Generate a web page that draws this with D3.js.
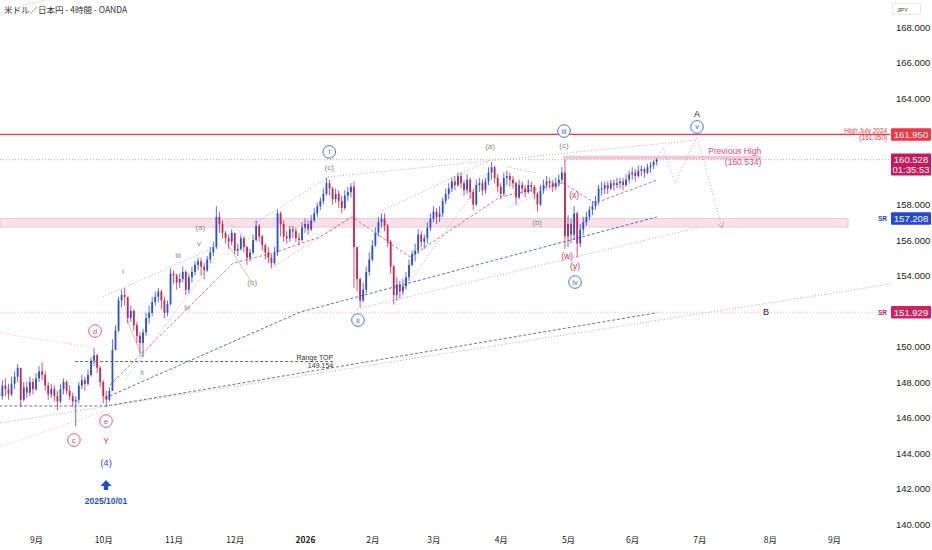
<!DOCTYPE html>
<html>
<head>
<meta charset="utf-8">
<script src="https://cdn.jsdelivr.net/npm/d3@7"></script>
<style>
body { margin: 0; background: #fff; }
svg { display: block; font-family: "Liberation Sans", Arial, sans-serif; }
</style>
</head>
<body>
<div id="chart"></div>
<script>
// daily bars from 2025-08-14 (weekdays only)
var startDate = new Date(2025, 7, 14);
var firstOpen = 147.4;

var closes = [
	147.2, 147.8,
	147.6, 147.3, 147.9, 148.3, 148.8,
	147.0, 147.7, 147.4, 148.0, 147.6,
	148.2, 148.6, 148.4, 147.8, 147.3,
	147.6, 147.2, 146.9, 147.6, 148.0,
	147.5, 147.2, 146.9, 147.0, 147.8,
	148.1, 147.9, 148.4, 149.2, 149.5,
	148.8, 148.0, 147.2, 147.0, 147.5,
	149.8, 150.9, 152.6, 152.9, 152.8,
	151.6, 152.0, 151.2, 150.6, 150.2,
	150.8, 151.6, 151.9, 152.5, 152.8,
	153.1, 152.6, 151.9, 152.4, 154.1,
	154.0, 153.6, 153.8, 154.2, 153.2,
	153.9, 154.2, 154.6, 154.8, 154.5,
	154.3, 154.9, 155.3, 155.6, 157.3,
	156.9, 156.4, 156.1, 155.9, 156.4,
	155.4, 155.5, 156.1, 155.6, 155.0,
	155.3, 156.0, 156.8, 156.2, 155.7,
	155.3, 155.0, 154.7, 155.3, 157.5,
	156.9, 156.2, 156.1, 156.6, 156.5,
	156.1, 156.0, 156.7, 156.9, 156.6,
	157.1, 157.5, 157.9, 158.2, 158.6,
	159.2, 158.9, 158.3, 158.6, 158.2,
	157.8, 158.5, 158.7, 159.0, 155.6,
	153.8, 152.6, 153.2, 154.2, 154.9,
	155.7, 156.4, 157.0, 157.2, 156.8,
	155.9, 154.5, 152.9, 153.5, 153.1,
	153.4, 153.9, 154.6, 155.2, 155.4,
	156.3, 155.9, 156.1, 156.7, 157.2,
	157.6, 157.3, 157.5, 158.2, 158.6,
	158.9, 159.3, 159.1, 159.6, 159.2,
	158.8, 159.4, 158.7, 158.0, 159.1,
	159.2, 158.8, 159.3, 159.8, 160.1,
	159.5, 159.0, 158.6, 159.5, 159.6,
	159.4, 159.2, 158.4, 159.1, 158.9,
	158.7, 159.1, 159.0, 158.6, 158.0,
	158.8, 159.1, 159.3, 159.2, 159.0,
	159.2, 159.4, 159.8, 156.2, 156.9,
	156.3, 157.5, 155.8, 156.6, 157.0,
	157.3, 157.7, 157.9, 158.2, 158.9,
	158.9, 159.1, 158.9, 159.2, 159.1,
	159.2, 159.3, 159.1, 159.4, 159.7,
	159.8, 159.6, 159.9, 160.0, 159.8,
	160.1, 160.2, 160.4, 160.528
];

var highs = [
	147.9, 148.1,
	148.2, 147.9, 148.3, 148.6, 149.0,
	148.2, 148.0, 148.0, 148.3, 148.2,
	148.5, 148.9, 149.1, 148.6, 148.0,
	147.9, 147.8, 147.5, 147.9, 148.2,
	148.1, 147.8, 147.4, 147.2, 148.0,
	148.4, 148.3, 148.7, 149.4, 149.9,
	149.6, 148.9, 148.1, 147.5, 147.7,
	150.4, 151.2, 152.8, 153.2, 153.3,
	152.6, 152.3, 152.1, 151.4, 150.8,
	151.0, 151.9, 152.3, 152.8, 153.1,
	153.3, 153.2, 152.8, 152.6, 154.4,
	154.3, 154.1, 154.1, 154.5, 154.3,
	154.1, 154.5, 154.8, 155.0, 155.0,
	154.7, 155.1, 155.6, 155.9, 157.9,
	157.6, 157.1, 156.5, 156.3, 156.6,
	156.4, 155.8, 156.3, 156.2, 155.7,
	155.5, 156.3, 157.1, 156.9, 156.3,
	155.8, 155.6, 155.2, 155.6, 157.7,
	157.6, 157.1, 156.5, 156.8, 156.8,
	156.7, 156.4, 157.0, 157.2, 157.1,
	157.4, 157.8, 158.1, 158.4, 158.9,
	159.5, 159.4, 159.0, 158.9, 158.8,
	158.5, 158.8, 159.0, 159.2, 159.3,
	155.6, 153.9, 153.6, 154.5, 155.3,
	156.0, 156.7, 157.3, 157.5, 157.5,
	156.9, 156.0, 154.6, 153.9, 153.7,
	153.8, 154.2, 154.9, 155.4, 155.8,
	156.6, 156.5, 156.3, 157.0, 157.5,
	157.9, 157.8, 157.9, 158.4, 158.9,
	159.2, 159.5, 159.6, 159.8, 159.8,
	159.4, 159.7, 159.5, 158.9, 159.4,
	159.5, 159.4, 159.5, 160.1, 160.4,
	160.2, 159.7, 159.2, 159.8, 159.9,
	159.8, 159.6, 159.3, 159.4, 159.3,
	159.1, 159.4, 159.3, 159.1, 158.7,
	159.1, 159.4, 159.6, 159.5, 159.4,
	159.5, 159.7, 160.1, 160.53, 157.4,
	157.2, 157.9, 157.6, 156.9, 157.3,
	157.6, 157.9, 158.2, 158.5, 159.1,
	159.3, 159.3, 159.3, 159.4, 159.4,
	159.5, 159.5, 159.5, 159.7, 159.9,
	160.1, 160.0, 160.2, 160.2, 160.1,
	160.3, 160.4, 160.5, 160.6
];

var lows = [
	146.8, 147.0,
	147.2, 147.0, 147.2, 147.6, 148.0,
	146.6, 146.9, 147.1, 147.2, 147.3,
	147.5, 148.0, 148.1, 147.5, 147.0,
	147.1, 146.9, 146.4, 146.8, 147.3,
	147.3, 147.0, 146.6, 145.5, 146.8,
	147.6, 147.5, 147.8, 148.3, 148.9,
	148.5, 147.7, 146.8, 146.6, 146.9,
	149.2, 150.2, 150.8, 152.2, 152.3,
	151.3, 151.4, 150.9, 150.2, 149.6,
	149.4, 150.6, 151.3, 151.7, 152.3,
	152.5, 152.1, 151.6, 151.7, 152.3,
	153.5, 153.2, 153.3, 153.6, 152.9,
	153.0, 153.6, 154.0, 154.3, 154.0,
	153.8, 154.2, 154.7, 155.1, 155.5,
	156.4, 156.1, 155.8, 155.5, 155.7,
	155.2, 155.1, 155.4, 155.3, 154.6,
	154.8, 155.2, 155.9, 155.9, 155.4,
	154.9, 154.7, 154.4, 154.6, 155.1,
	156.2, 155.9, 155.8, 155.9, 156.1,
	155.9, 155.7, 155.9, 156.4, 156.3,
	156.5, 157.0, 157.3, 157.7, 158.0,
	158.5, 158.5, 158.0, 158.1, 157.8,
	157.5, 157.7, 158.2, 158.4, 153.3,
	153.1, 152.2, 152.5, 153.0, 154.0,
	154.8, 155.6, 156.2, 156.7, 156.5,
	155.6, 154.1, 152.4, 152.6, 152.7,
	152.9, 153.2, 153.7, 154.5, 154.8,
	155.2, 155.6, 155.5, 155.8, 156.5,
	157.0, 156.9, 157.0, 157.3, 158.0,
	158.3, 158.7, 158.8, 159.0, 158.9,
	158.5, 158.6, 158.3, 157.7, 157.9,
	158.7, 158.5, 158.6, 159.1, 159.4,
	159.2, 158.7, 158.3, 158.5, 159.1,
	159.0, 158.9, 158.0, 158.3, 158.6,
	158.4, 158.6, 158.7, 158.3, 157.6,
	157.9, 158.6, 158.9, 158.9, 158.7,
	158.8, 159.0, 159.2, 155.5, 155.6,
	155.8, 156.0, 155.0, 155.6, 156.3,
	156.8, 157.1, 157.4, 157.7, 158.0,
	158.5, 158.6, 158.6, 158.8, 158.8,
	158.9, 158.9, 158.8, 159.0, 159.2,
	159.4, 159.3, 159.5, 159.6, 159.5,
	159.7, 159.8, 160.0, 160.2
];

var monthLabels = ["9月","10月","11月","12月","2026","2月","3月","4月","5月","6月","7月","8月","9月"];
var priceTicks = [140,142,144,146,148,150,154,156,158,164,166,168];

// key levels
var highJuly2024 = 161.950;
var prevHigh = 160.534, prevHighTop = 160.75;
var lastPrice = 160.528;
var srTop = 157.208, srBottom = 156.73;
var srLow = 151.929;
var rangeTop = 149.154;

// drawn lines as [bar, price]
var grayDotted = [
	[[0.2,145.69],[291.4,153.52]],
	[[117,152.11],[228.2,156.68]],
	[[107.5,159.55],[228.2,161.63]],
	[[123.6,157.52],[160.5,160.51]],
	[[128.8,152.34],[159.5,159.77]],
	[[84.3,157.01],[108.2,159.61]],
	[[89.5,154.48],[114.7,157.30]],
	[[33.9,152.79],[69.9,155.55]],
	[[41.1,148.11],[70.6,154.99]],
	[[74.5,157.01],[82,156.0]],
	[[166.4,160.11],[175.9,159.77]],
	[[167,157.86],[184.4,159.21]],
	[[6.8,169.18],[14.9,169.52]]
];
var graySolid = [
	[[41.8,151.49],[46.7,149.41]],
	[[74.5,155.83],[82,153.75]]
];
var darkDashed = [[0,146.65],[35,146.65],[215,151.9]];
var blueDashed = [[34.6,147.10],[98.4,151.94],[215.1,157.30]];
var redDashed = [[36.2,147.83],[76.5,154.70],[89.5,155.27],[104.9,156.17],[115.4,157.30],[134.4,155.04],[163.8,158.42],[184.4,159.21],[194.9,158.08],[215.1,159.38]];
var redDotted = [
	[[0.2,150.76],[31.3,149.92]],
	[[0.2,144.34],[35.2,146.42]]
];
var projection = [[215.1,160.62],[217.1,161.2],[221,159.21],[228.2,161.80],[236.4,156.68]];

// wave labels [text, bar, price]
var blueCircled = [["v",228.2,162.37],["iii",184.7,162.14],["i",107.9,160.96],["ii",117.3,151.49],["iv",188.3,153.63]];
var redCircled = [["d",31.3,150.87],["c",24.4,144.73],["e",34.9,145.80]];
var grayLabels = [["(c)",184.7,161.30],["(c)",107.9,160.11],["(a)",160.5,161.24],["(b)",175.9,157.01],["(a)",65.7,156.68],["(b)",82.7,153.63],["i",40.5,154.20],["iii",58.5,155.15],["v",65.3,155.83],["iv",61.4,152.17],["ii",46.7,148.51]];
var redLabels = [["(x)",188,158.54],["(w)",185.7,155.10],["(y)",188.3,154.54],["Y",34.9,144.68]];
var blackLabels = [["A",228.2,163.10],["B",250.8,151.94]];
var markBar = 34.9, markPrices = [143.44, 142.2, 141.52];

var W = 932, H = 550, plotR = 890, plotB = 530;

// weekday calendar
var days = [];
var dd = new Date(startDate);
while (dd <= new Date(2026, 8, 30)) {
	if (dd.getDay() !== 0 && dd.getDay() !== 6) days.push(new Date(dd));
	dd.setDate(dd.getDate() + 1);
}
var monthStarts = [];
days.forEach(function(d, i) {
	if (i > 0 && d.getMonth() !== days[i-1].getMonth()) monthStarts.push(i);
});

var x = d3.scaleLinear().domain([monthStarts[0], monthStarts[12]]).range([36, 834]);
var y = d3.scaleLinear().domain([140, 168]).range([524, 27]);

var svg = d3.select("#chart").append("svg").attr("width", W).attr("height", H);
svg.append("rect").attr("width", W).attr("height", H).attr("fill", "#fff");
svg.append("clipPath").attr("id", "plot").append("rect")
	.attr("x", 0).attr("y", 0).attr("width", plotR).attr("height", plotB);

var g = svg.append("g").attr("clip-path", "url(#plot)");

var line = d3.line().x(function(d) { return x(d[0]); }).y(function(d) { return y(d[1]); });

// SR zone
g.append("rect")
	.attr("x", 0).attr("y", y(srTop))
	.attr("width", x(277.6)).attr("height", y(srBottom) - y(srTop))
	.attr("fill", "#fbe0ea").attr("stroke", "#dcc4ce").attr("stroke-width", 0.8);

// horizontal levels
function hline(p, color, dash, w, x2) {
	g.append("line").attr("x1", 0).attr("x2", x2 || plotR)
		.attr("y1", y(p)).attr("y2", y(p))
		.attr("stroke", color).attr("stroke-width", w)
		.attr("stroke-dasharray", dash);
}
hline(lastPrice, "#a0a4ac", "1,2", 0.8);
hline(srLow, "#e2a6bc", "1,2", 0.8, 876);

g.append("line")
	.attr("x1", x(24.8)).attr("x2", x(109.2))
	.attr("y1", y(rangeTop)).attr("y2", y(rangeTop))
	.attr("stroke", "#555").attr("stroke-width", 0.9).attr("stroke-dasharray", "3,2");

g.append("rect")
	.attr("x", x(184.4)).attr("y", y(prevHighTop))
	.attr("width", x(249.2) - x(184.4)).attr("height", y(prevHigh) - y(prevHighTop))
	.attr("fill", "#f2b8cc").attr("opacity", 0.8);

// trend lines
grayDotted.forEach(function(s) {
	g.append("path").attr("d", line(s)).attr("fill", "none")
		.attr("stroke", "#9a9a9a").attr("stroke-width", 0.8).attr("stroke-dasharray", "1,2");
});
graySolid.forEach(function(s) {
	g.append("path").attr("d", line(s)).attr("fill", "none")
		.attr("stroke", "#aaa").attr("stroke-width", 0.7);
});
redDotted.forEach(function(s) {
	g.append("path").attr("d", line(s)).attr("fill", "none")
		.attr("stroke", "#f0a0b4").attr("stroke-width", 0.8).attr("stroke-dasharray", "1,2");
});
g.append("path").attr("d", line(darkDashed)).attr("fill", "none")
	.attr("stroke", "#666").attr("stroke-width", 0.9).attr("stroke-dasharray", "3,2");
g.append("path").attr("d", line(blueDashed)).attr("fill", "none")
	.attr("stroke", "#3d5fd0").attr("stroke-width", 0.9).attr("stroke-dasharray", "3,2");
g.append("path").attr("d", line(redDashed)).attr("fill", "none")
	.attr("stroke", "#e0607e").attr("stroke-width", 0.9).attr("stroke-dasharray", "3,2");

// candles
var bars = closes.map(function(c, i) {
	return { i: i, o: i ? closes[i-1] : firstOpen, c: c, h: highs[i], l: lows[i] };
});
var candle = g.selectAll("g.bar")
	.data(bars)
	.enter()
	.append("g").attr("class", "bar");
candle.append("line")
	.attr("x1", function(d) { return x(d.i); })
	.attr("x2", function(d) { return x(d.i); })
	.attr("y1", function(d) { return y(d.h); })
	.attr("y2", function(d) { return y(d.l); })
	.attr("stroke", function(d) { return d.c >= d.o ? "#2a4fd8" : "#c8284e"; })
	.attr("stroke-width", 0.8);
candle.append("rect")
	.attr("x", function(d) { return x(d.i) - 0.9; })
	.attr("width", 1.8)
	.attr("y", function(d) { return y(Math.max(d.o, d.c)); })
	.attr("height", function(d) { return Math.max(1, Math.abs(y(d.o) - y(d.c))); })
	.attr("fill", function(d) { return d.c >= d.o ? "#2a4fd8" : "#c8284e"; });

// July 2024 high
hline(highJuly2024, "#f23645", null, 1.4);

// projection path
g.append("path").attr("d", line(projection)).attr("fill", "none")
	.attr("stroke", "#a8a8a8").attr("stroke-width", 0.9).attr("stroke-dasharray", "1,2");
var pa = projection[projection.length-2], pb = projection[projection.length-1];
var ang = Math.atan2(y(pb[1]) - y(pa[1]), x(pb[0]) - x(pa[0]));
[-2.6, 2.6].forEach(function(da) {
	g.append("line")
		.attr("x1", x(pb[0])).attr("y1", y(pb[1]))
		.attr("x2", x(pb[0]) - 6 * Math.cos(ang + da * 0.2))
		.attr("y2", y(pb[1]) - 6 * Math.sin(ang + da * 0.2))
		.attr("stroke", "#a8a8a8").attr("stroke-width", 0.9);
});

// labels
function txt(t, i, p, color, size, weight) {
	return g.append("text").attr("x", x(i)).attr("y", y(p))
		.attr("text-anchor", "middle").attr("dominant-baseline", "central")
		.attr("font-size", size).attr("font-weight", weight || "normal")
		.attr("fill", color).text(t);
}
function circled(list, color) {
	list.forEach(function(l) {
		g.append("circle").attr("cx", x(l[1])).attr("cy", y(l[2])).attr("r", 6.3)
			.attr("fill", "#fff").attr("stroke", color).attr("stroke-width", 0.9);
		txt(l[0], l[1], l[2], color, 7.5);
	});
}
circled(blueCircled, "#3a62d8");
circled(redCircled, "#e2496f");
grayLabels.forEach(function(l) { txt(l[0], l[1], l[2], "#8a8a8a", 8); });
redLabels.forEach(function(l) { txt(l[0], l[1], l[2], "#d6335e", 8.5); });
blackLabels.forEach(function(l) { txt(l[0], l[1], l[2], "#222", 9); });

txt("(4)", markBar, markPrices[0], "#2d55d0", 9.5);
g.append("path")
	.attr("transform", "translate(" + x(markBar) + "," + y(markPrices[1]) + ")")
	.attr("d", "M-5.5,1 L0,-5 L5.5,1 L2.2,1 L2.2,5 L-2.2,5 L-2.2,1 Z")
	.attr("fill", "#1f4fc8");
txt("2025/10/01", markBar, markPrices[2] - 0.22, "#1f4fc8", 8.5, "bold");

// Range TOP
g.append("text").attr("x", x(109.2)).attr("y", y(rangeTop) - 2)
	.attr("text-anchor", "end").attr("font-size", 7).attr("fill", "#333").text("Range TOP");
g.append("text").attr("x", x(109.2)).attr("y", y(rangeTop) + 6)
	.attr("text-anchor", "end").attr("font-size", 7).attr("fill", "#333").text(rangeTop.toFixed(3));

// Previous High
g.append("text").attr("x", x(249.2)).attr("y", y(prevHighTop) - 1.5)
	.attr("text-anchor", "end").attr("font-size", 8.5).attr("fill", "#e0487a").text("Previous High");
g.append("text").attr("x", x(249.2)).attr("y", y(prevHigh) + 5)
	.attr("text-anchor", "end").attr("font-size", 8.5).attr("fill", "#e0487a").text("(" + prevHigh.toFixed(3) + ")");

// High July 2024
g.append("text").attr("x", x(290.4)).attr("y", y(highJuly2024) - 1.5)
	.attr("text-anchor", "end").attr("font-size", 6.5).attr("fill", "#f23645").text("High July 2024");
g.append("text").attr("x", x(290.4)).attr("y", y(highJuly2024) + 6)
	.attr("text-anchor", "end").attr("font-size", 6.5).attr("fill", "#f23645").text("(" + highJuly2024.toFixed(3) + ")");

// SR marks
g.append("text").attr("x", 887).attr("y", y(srTop) + 2.5).attr("text-anchor", "end")
	.attr("font-size", 6.5).attr("font-weight", "bold").attr("fill", "#2448d8").text("SR");
g.append("text").attr("x", 887).attr("y", y(srLow) + 2.5).attr("text-anchor", "end")
	.attr("font-size", 6.5).attr("font-weight", "bold").attr("fill", "#d0215f").text("SR");

// title
svg.append("text").attr("x", 4).attr("y", 13)
	.attr("font-family", "'Noto Sans CJK JP', sans-serif")
	.attr("font-size", 8.5).attr("fill", "#333")
	.text("米ドル／日本円 - 4時間 - OANDA");

// price axis
var yAxis = d3.axisRight(y).tickValues(priceTicks)
	.tickFormat(d3.format(".3f")).tickSize(0).tickPadding(4);
var ya = svg.append("g").attr("transform", "translate(892,0)").call(yAxis);
ya.select(".domain").remove();
ya.selectAll("text").attr("font-size", 9.5).attr("fill", "#222")
	.attr("font-family", "'Liberation Sans', Arial, sans-serif");

// time axis
var xAxis = d3.axisBottom(x).tickValues(monthStarts)
	.tickFormat(function(d, i) { return monthLabels[i]; }).tickSize(0).tickPadding(5);
var xa = svg.append("g").attr("transform", "translate(0," + (plotB + 2) + ")").call(xAxis);
xa.select(".domain").remove();
xa.selectAll("text").attr("font-size", 8.5).attr("fill", "#222")
	.attr("font-family", "'Noto Sans CJK JP', sans-serif")
	.attr("font-weight", function(d, i) { return monthLabels[i] === "2026" ? "bold" : "normal"; });

// price tags
function tag(p, color, lines) {
	var h = lines.length > 1 ? 22 : 12.5;
	svg.append("rect").attr("x", 891).attr("y", y(p) - 6.25)
		.attr("width", 40).attr("height", h).attr("rx", 1).attr("fill", color);
	lines.forEach(function(t, k) {
		svg.append("text").attr("x", 911).attr("y", y(p) + 3.3 + k * 10)
			.attr("text-anchor", "middle").attr("font-size", 9.5).attr("fill", "#fff").text(t);
	});
}
tag(highJuly2024, "#f23645", [highJuly2024.toFixed(3)]);
tag(lastPrice, "#c8185c", [lastPrice.toFixed(3), "01:35:53"]);
tag(srTop, "#2448d8", [srTop.toFixed(3)]);
tag(srLow, "#d0215f", [srLow.toFixed(3)]);

// currency box
svg.append("rect").attr("x", 892.5).attr("y", 3.5).attr("width", 28).attr("height", 11)
	.attr("fill", "#fff").attr("stroke", "#e3e5ea").attr("stroke-width", 0.8);
svg.append("text").attr("x", 897).attr("y", 11.5).attr("font-size", 6).attr("fill", "#333").text("JPY");
</script>
</body>
</html>
